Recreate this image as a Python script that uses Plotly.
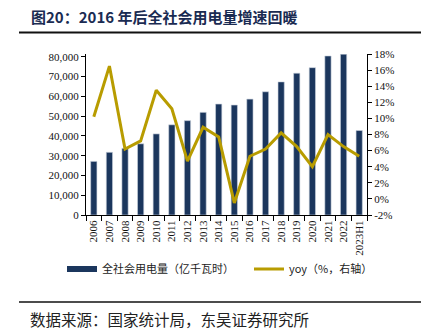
import plotly.graph_objects as go

# 全社会用电量（亿千瓦时）及同比增速
years = ["2006", "2007", "2008", "2009", "2010", "2011", "2012", "2013", "2014",
         "2015", "2016", "2017", "2018", "2019", "2020", "2021", "2022", "2023H1"]
power = [27100, 31700, 33700, 36000, 41000, 45600, 47700, 51900, 56100,
         55600, 58600, 62300, 67300, 71700, 74500, 80400, 81300, 42700]
yoy = [10.2, 16.5, 6.2, 7.2, 13.5, 11.2, 4.7, 8.9, 7.7,
       -0.5, 5.3, 6.2, 8.2, 6.5, 4.0, 8.0, 6.5, 5.3]

left_ticks = [0, 10000, 20000, 30000, 40000, 50000, 60000, 70000, 80000]
right_ticks = [-2, 0, 2, 4, 6, 8, 10, 12, 14, 16, 18]
right_labels = [f"{v}%" for v in right_ticks]

NAVY = "#1B365D"
GOLD = "#B89C00"
SERIF = "Liberation Serif"
CJK = "Noto Sans CJK SC"

# plot area in pixels: x 86..367, y 54..215
W, H = 434, 334
L, R, T, B = 86, 67, 54, 119
PW, PH = W - L - R, H - T - B


def px_x(px):
    return (px - L) / PW


def px_y(py):
    return (H - B - py) / PH


fig = go.Figure()

fig.add_trace(go.Bar(
    x=years, y=power, name="全社会用电量（亿千瓦时）",
    marker=dict(color=NAVY, line=dict(color="#c9d2de", width=0.6)),
    showlegend=False, yaxis="y",
))
fig.add_trace(go.Scatter(
    x=years, y=yoy, name="yoy（%，右轴）", mode="lines",
    line=dict(color=GOLD, width=3), showlegend=False, yaxis="y2",
))

# legend entries: wide swatches, one legend box each
fig.add_trace(go.Scatter(
    x=[None], y=[None], mode="lines", name="全社会用电量（亿千瓦时）",
    line=dict(color=NAVY, width=6), yaxis="y", legend="legend",
))
fig.add_trace(go.Scatter(
    x=[None], y=[None], mode="lines", name="yoy（%，右轴）",
    line=dict(color=GOLD, width=3), yaxis="y2", legend="legend2",
))

legend_style = dict(
    orientation="h", xanchor="left", yanchor="middle",
    font=dict(family=CJK, size=11, color="#222"),
    bgcolor="rgba(0,0,0,0)", itemwidth=30,
)

fig.update_layout(
    width=W, height=H,
    margin=dict(l=L, r=R, t=T, b=B, autoexpand=False),
    paper_bgcolor="white", plot_bgcolor="white",
    bargap=0.6,
    showlegend=True,
    legend=dict(x=px_x(62), y=px_y(269), **legend_style),
    legend2=dict(x=px_x(249), y=px_y(269), **legend_style),
    xaxis=dict(
        type="category", tickangle=-90,
        tickfont=dict(family=SERIF, size=11, color="#111"),
        showline=True, linecolor="#000", linewidth=1,
        ticks="outside", ticklen=5, tickcolor="#000", tickson="boundaries",
        showgrid=False, zeroline=False,
    ),
    yaxis=dict(
        range=[0, 81400], tickvals=left_ticks, tickformat=",",
        tickfont=dict(family=SERIF, size=11, color="#111"),
        showline=True, linecolor="#000", linewidth=1,
        ticks="outside", ticklen=4, tickcolor="#000",
        showgrid=False, zeroline=False,
    ),
    yaxis2=dict(
        overlaying="y", side="right",
        range=[-2, 18], tickmode="array", tickvals=right_ticks, ticktext=right_labels,
        tickfont=dict(family=SERIF, size=11, color="#111"),
        showline=True, linecolor="#000", linewidth=1,
        ticks="outside", ticklen=4, tickcolor="#000",
        showgrid=False, zeroline=False,
    ),
    annotations=[
        dict(text="<b>图20：2016 年后全社会用电量增速回暖</b>",
             xref="paper", yref="paper", x=px_x(29), y=px_y(17),
             xanchor="left", yanchor="middle", showarrow=False,
             font=dict(family=CJK, size=15, color="#1A2B52")),
        dict(text="数据来源：国家统计局，东吴证券研究所",
             xref="paper", yref="paper", x=px_x(28), y=px_y(319),
             xanchor="left", yanchor="middle", showarrow=False,
             font=dict(family=CJK, size=15.5, color="#222")),
    ],
    shapes=[
        dict(type="line", xref="paper", yref="paper",
             x0=px_x(19), x1=px_x(421), y0=px_y(32.5), y1=px_y(32.5),
             line=dict(color="#111", width=2)),
        dict(type="line", xref="paper", yref="paper",
             x0=px_x(19), x1=px_x(421), y0=px_y(302), y1=px_y(302),
             line=dict(color="#111", width=1.5)),
    ],
)

fig.write_html("out.html")
